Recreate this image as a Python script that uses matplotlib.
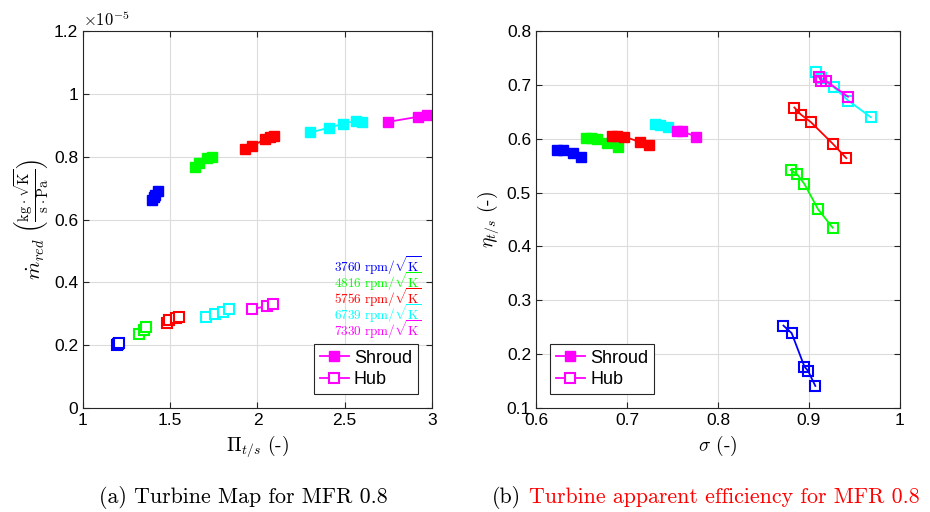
import matplotlib
matplotlib.use("Agg")
import matplotlib.pyplot as plt
from matplotlib.ticker import FuncFormatter, MultipleLocator
from matplotlib.lines import Line2D

plt.rcParams.update({
    'font.family': 'Liberation Sans',
    'mathtext.fontset': 'cm',
    'font.size': 12,
    'axes.linewidth': 0.8,
    'xtick.direction': 'in',
    'ytick.direction': 'in',
    'xtick.top': True,
    'ytick.right': True,
})

speeds = ['3760', '4816', '5756', '6739', '7330']
colors = ['#0000ff', '#00ff00', '#ff0000', '#00ffff', '#ff00ff']

# (a) Turbine map, mass flow in units of 1e-5
pi_shroud = [[1.394, 1.405, 1.413, 1.432],
             [1.642, 1.667, 1.709, 1.737],
             [1.928, 1.967, 2.043, 2.072, 2.095],
             [2.30, 2.41, 2.49, 2.565, 2.597],
             [2.75, 2.92, 2.97]]
m_shroud = [[0.662, 0.672, 0.678, 0.692],
            [0.766, 0.779, 0.795, 0.800],
            [0.826, 0.834, 0.855, 0.862, 0.866],
            [0.877, 0.892, 0.905, 0.914, 0.911],
            [0.911, 0.927, 0.932]]
pi_hub = [[1.193, 1.200, 1.205],
          [1.323, 1.350, 1.361],
          [1.480, 1.495, 1.533, 1.552],
          [1.705, 1.756, 1.800, 1.838],
          [1.967, 2.056, 2.090]]
m_hub = [[0.200, 0.203, 0.206],
         [0.236, 0.248, 0.257],
         [0.270, 0.280, 0.285, 0.290],
         [0.290, 0.299, 0.306, 0.314],
         [0.314, 0.325, 0.331]]

# (b) apparent efficiency
sig_shroud = [[0.623, 0.630, 0.641, 0.650],
              [0.655, 0.661, 0.667, 0.678, 0.690],
              [0.684, 0.689, 0.697, 0.714, 0.724],
              [0.731, 0.736, 0.745],
              [0.755, 0.760, 0.776]]
eta_shroud = [[0.579, 0.579, 0.573, 0.566],
              [0.602, 0.602, 0.600, 0.592, 0.585],
              [0.606, 0.606, 0.604, 0.594, 0.588],
              [0.628, 0.625, 0.622],
              [0.614, 0.614, 0.604]]
sig_hub = [[0.872, 0.881, 0.895, 0.899, 0.907],
           [0.880, 0.887, 0.895, 0.910, 0.926],
           [0.884, 0.891, 0.902, 0.926, 0.941],
           [0.908, 0.913, 0.927, 0.943, 0.968],
           [0.911, 0.913, 0.919, 0.943]]
eta_hub = [[0.253, 0.239, 0.177, 0.169, 0.141],
           [0.542, 0.534, 0.516, 0.469, 0.435],
           [0.658, 0.645, 0.631, 0.591, 0.564],
           [0.724, 0.713, 0.696, 0.671, 0.640],
           [0.715, 0.708, 0.707, 0.678]]

fig = plt.figure(figsize=(9.3, 5.12), dpi=100)
ax1 = fig.add_axes([0.0892, 0.2031, 0.3753, 0.7363])
ax2 = fig.add_axes([0.5763, 0.2031, 0.3914, 0.7363])

ms = 6.5
lw = 1.3
for i, c in enumerate(colors):
    ax1.plot(pi_shroud[i], m_shroud[i], 's-', color=c, mfc=c, ms=ms, lw=lw)
    ax1.plot(pi_hub[i], m_hub[i], 's-', color=c, mfc='white', ms=ms, lw=lw, mew=1.5)
    ax2.plot(sig_shroud[i], eta_shroud[i], 's-', color=c, mfc=c, ms=ms, lw=lw)
    ax2.plot(sig_hub[i], eta_hub[i], 's-', color=c, mfc='none', ms=ms, lw=lw, mew=1.5)

fmt = FuncFormatter(lambda v, p: '%g' % round(v, 6))
for ax in (ax1, ax2):
    ax.grid(True, color='#dcdcdc', lw=0.8)
    ax.set_axisbelow(True)
    ax.xaxis.set_major_formatter(fmt)
    ax.yaxis.set_major_formatter(fmt)
    ax.tick_params(labelsize=12.5, length=4, width=0.8, color='#262626')
    for s in ax.spines.values():
        s.set_color('#262626')

ax1.set_xlim(1, 3)
ax1.set_ylim(0, 1.2)
ax1.xaxis.set_major_locator(MultipleLocator(0.5))
ax1.yaxis.set_major_locator(MultipleLocator(0.2))
ax1.set_xlabel(r'$\Pi_{t/s}$ (-)', fontsize=14, family='cmr10')
ax1.set_ylabel(r'$\dot{m}_{red}\ \left(\frac{\mathrm{kg}\cdot\sqrt{\mathrm{K}}}{\mathrm{s}\cdot\mathrm{Pa}}\right)$',
               fontsize=15, labelpad=2)
ax1.text(0.0, 1.005, r'$\times10^{-5}$', transform=ax1.transAxes, fontsize=12,
         ha='left', va='bottom', family='Liberation Sans')

ax2.set_xlim(0.6, 1.0)
ax2.set_ylim(0.1, 0.8)
ax2.xaxis.set_major_locator(MultipleLocator(0.1))
ax2.yaxis.set_major_locator(MultipleLocator(0.1))
ax2.set_xlabel(r'$\sigma$ (-)', fontsize=14, family='cmr10')
ax2.set_ylabel(r'$\eta_{t/s}$ (-)', fontsize=14, family='cmr10')

for i, (sp, c) in enumerate(zip(speeds, colors)):
    ax1.text(0.97, 0.377 - i * 0.0424, r'$\mathrm{%s\ rpm}/\sqrt{\mathrm{K}}$' % sp,
             transform=ax1.transAxes, color=c, fontsize=9.5, ha='right', va='center')

handles = [Line2D([], [], marker='s', color='#ff00ff', mfc='#ff00ff', ms=ms, lw=lw),
           Line2D([], [], marker='s', color='#ff00ff', mfc='white', ms=ms, lw=lw, mew=1.5)]
for ax, loc in ((ax1, 'lower right'), (ax2, 'lower left')):
    leg = ax.legend(handles, ['Shroud', 'Hub'], loc=loc, fontsize=13, fancybox=False,
                    framealpha=1, edgecolor='#262626', handlelength=1.6,
                    handletextpad=0.3, borderpad=0.3, labelspacing=0.25,
                    borderaxespad=0.8)
    leg.get_frame().set_linewidth(0.8)

fig.text(0.1065, 0.029, '(a) Turbine Map for MFR 0.8', family='cmr10', fontsize=15.8,
         ha='left', va='center')
fig.text(0.529, 0.029, '(b)', family='cmr10', fontsize=15.8, ha='left', va='center')
fig.text(0.569, 0.029, 'Turbine apparent efficiency for MFR 0.8', family='cmr10',
         fontsize=15.8, color='#ff0000', ha='left', va='center')

fig.savefig('out.png', dpi=100)
